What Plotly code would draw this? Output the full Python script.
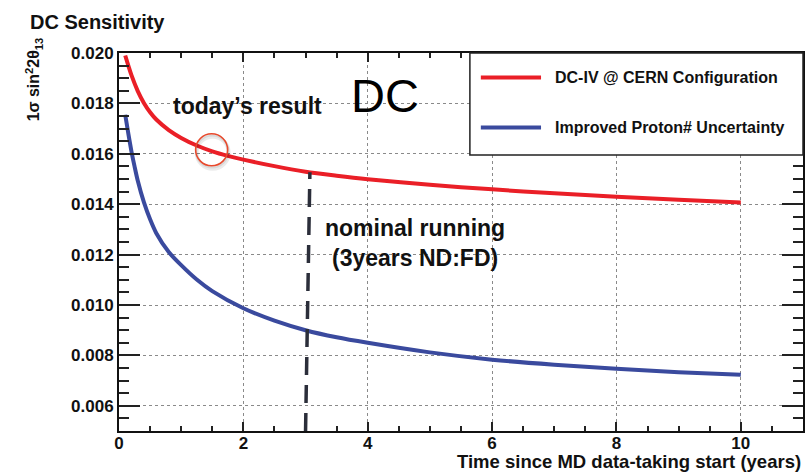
import plotly.graph_objects as go

# Sensitivity curves (1 sigma on sin^2 2theta13) versus running time in years
years_dc4 = [0.10, 0.15, 0.20, 0.30, 0.40, 0.50, 0.60, 0.80, 1.00, 1.25, 1.50,
             1.75, 2.00, 2.50, 3.00, 3.50, 4.00, 5.00, 6.00, 7.00, 8.00, 9.00, 10.0]
sens_dc4 = [0.01990, 0.01950, 0.01912, 0.01850, 0.01802, 0.01765, 0.01736, 0.01694,
            0.01663, 0.01633, 0.01610, 0.01592, 0.01577, 0.01551, 0.01529,
            0.01513, 0.01499, 0.01477, 0.01459, 0.01443, 0.01430, 0.01418, 0.01407]

years_proton = [0.10, 0.15, 0.20, 0.25, 0.30, 0.40, 0.50, 0.60, 0.80, 1.00, 1.25,
                1.50, 2.00, 2.50, 3.00, 3.50, 4.00, 5.00, 6.00, 7.00, 8.00, 9.00, 10.0]
sens_proton = [0.01755, 0.01680, 0.01610, 0.01550, 0.01495, 0.01408, 0.01340, 0.01285,
               0.01210, 0.01158, 0.01101, 0.01055, 0.00987, 0.00938, 0.00900, 0.00872,
               0.00850, 0.00812, 0.00783, 0.00763, 0.00747, 0.00733, 0.00723]

series_names = ["DC-IV @ CERN Configuration", "Improved Proton# Uncertainty"]
series_colors = ["#ea1f27", "#3a4a9e"]

y_ticks = [0.006, 0.008, 0.010, 0.012, 0.014, 0.016, 0.018, 0.020]
x_ticks = [0, 2, 4, 6, 8, 10]

nominal_years = 3.0        # nominal running period
nominal_sens = 0.01527     # red curve level where the marker stops
today_years = 1.49         # current result position
today_sens = 0.01616

FONT = "Liberation Sans, Arial, Helvetica, sans-serif"
INK = "#111111"

fig = go.Figure()

for xs, ys, name, col in [(years_dc4, sens_dc4, series_names[0], series_colors[0]),
                          (years_proton, sens_proton, series_names[1], series_colors[1])]:
    fig.add_trace(go.Scatter(x=xs, y=ys, mode="lines", name=name,
                             line=dict(color=col, width=4, shape="spline", smoothing=0.8),
                             showlegend=False, hoverinfo="x+y"))

# nominal running marker
fig.add_shape(type="line", xref="x", yref="y",
              x0=nominal_years, y0=0.005, x1=nominal_years + 0.07, y1=nominal_sens,
              line=dict(color="#2b2e3a", width=3.5, dash="18px,10px"), layer="above")

# highlight circle around today's result, with a soft shadow
for dx, dy, col, w in [(1, -3, "rgba(0,0,0,0.08)", 4), (0.5, -1.5, "rgba(0,0,0,0.08)", 2.5)]:
    fig.add_shape(type="circle", xref="x", yref="y", xsizemode="pixel", ysizemode="pixel",
                  xanchor=today_years, yanchor=today_sens,
                  x0=-16 + dx, x1=16 + dx, y0=-16 + dy, y1=16 + dy,
                  line=dict(color=col, width=w), layer="above")
fig.add_shape(type="circle", xref="x", yref="y", xsizemode="pixel", ysizemode="pixel",
              xanchor=today_years, yanchor=today_sens, x0=-16, x1=16, y0=-16, y1=16,
              line=dict(color="#e8492c", width=1.6), layer="above")

# legend box drawn in paper coordinates
fig.add_shape(type="rect", xref="paper", yref="paper", x0=0.513, x1=1.0, y0=0.730, y1=1.0,
              fillcolor="white", line=dict(color="#222", width=1.5), layer="above")
leg_y = [0.935, 0.803]
for yy, name, col in zip(leg_y, series_names, series_colors):
    fig.add_shape(type="line", xref="paper", yref="paper", x0=0.529, x1=0.617, y0=yy, y1=yy,
                  line=dict(color=col, width=4), layer="above")
    fig.add_annotation(xref="paper", yref="paper", x=0.634, y=yy, text=name, showarrow=False,
                       xanchor="left", yanchor="middle",
                       font=dict(family=FONT, size=16, color=INK, weight="bold"))

# text annotations
fig.add_annotation(x=2.07, y=0.01791, xref="x", yref="y", text="today’s result", showarrow=False,
                   font=dict(family=FONT, size=23, color=INK, weight="bold"))
fig.add_annotation(x=4.27, y=0.01831, xref="x", yref="y", text="DC", showarrow=False,
                   font=dict(family=FONT, size=47, color="black"))
fig.add_annotation(x=4.76, y=0.01246, xref="x", yref="y",
                   text="nominal running<br>(3years ND:FD)", showarrow=False,
                   font=dict(family=FONT, size=23, color=INK, weight="bold"))

# titles
fig.add_annotation(xref="paper", yref="paper", x=-0.1327, y=1.082, xanchor="left", yanchor="middle",
                   text="DC Sensitivity", showarrow=False,
                   font=dict(family=FONT, size=20, color=INK, weight="bold"))
fig.add_annotation(xref="paper", yref="paper", x=-0.125, y=0.929, xanchor="center", yanchor="middle",
                   textangle=-90, text="1σ sin<sup>2</sup>2θ<sub>13</sub>", showarrow=False,
                   font=dict(family=FONT, size=16, color=INK, weight="bold"))
fig.add_annotation(xref="paper", yref="paper", x=1.0, y=-0.1138, xanchor="right", yanchor="bottom",
                   text="Time since MD data-taking start (years)", showarrow=False,
                   font=dict(family=FONT, size=18.5, color=INK, weight="bold"))

axis_common = dict(showline=True, linecolor="#111", linewidth=2, mirror="ticks",
                   ticks="inside", tickcolor="#222", tickwidth=1.5,
                   showgrid=True, gridcolor="#8a8a8a", griddash="dot", gridwidth=1,
                   zeroline=False,
                   tickfont=dict(family=FONT, size=17, color=INK, weight="bold"))

fig.update_xaxes(range=[0, 11], tickvals=x_ticks, ticktext=[str(v) for v in x_ticks],
                 ticklen=9, ticklabelstandoff=-4,
                 minor=dict(ticks="inside", dtick=0.5, tick0=0, ticklen=5, tickcolor="#222",
                            tickwidth=1.5, showgrid=False),
                 **axis_common)
fig.update_yaxes(range=[0.005, 0.020], tickvals=y_ticks, ticktext=[f"{v:.3f}" for v in y_ticks],
                 ticklen=21,
                 minor=dict(ticks="inside", dtick=0.0005, tick0=0, ticklen=10, tickcolor="#222",
                            tickwidth=1.5, showgrid=False),
                 **axis_common)

fig.update_layout(width=810, height=473, margin=dict(l=119, r=5, t=53, b=42),
                  plot_bgcolor="white", paper_bgcolor="white", showlegend=False)

fig.write_html("out.html")
